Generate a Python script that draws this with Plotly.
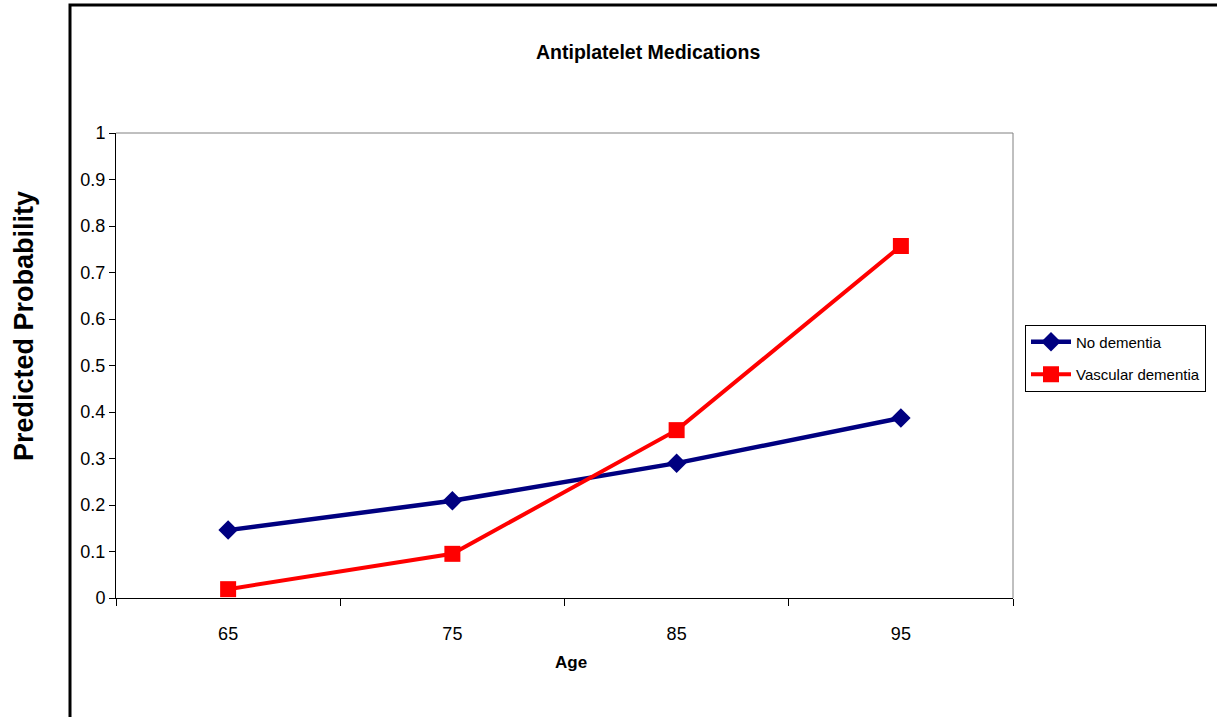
import plotly.graph_objects as go

ages = ["65", "75", "85", "95"]
no_dementia = [0.146, 0.209, 0.290, 0.387]
vascular_dementia = [0.019, 0.095, 0.361, 0.757]
y_ticks = [0, 0.1, 0.2, 0.3, 0.4, 0.5, 0.6, 0.7, 0.8, 0.9, 1]
y_tick_labels = ["0", "0.1", "0.2", "0.3", "0.4", "0.5", "0.6", "0.7", "0.8", "0.9", "1"]

sans = "Liberation Sans, Arial, sans-serif"

fig = go.Figure()
fig.add_trace(go.Scatter(
    x=ages, y=no_dementia, name="No dementia", mode="lines+markers",
    legendgroup="nd",
    line=dict(color="#000080", width=4.5),
    marker=dict(symbol="diamond", size=15, color="#000080"),
))
fig.add_trace(go.Scatter(
    x=ages, y=vascular_dementia, name="Vascular dementia", mode="lines+markers",
    legendgroup="vd",
    line=dict(color="#FF0000", width=4),
    marker=dict(symbol="square", size=16, color="#FF0000"),
))

L, R, T, B = 116, 204, 133, 119
W, H = 1217, 717
pw = W - L - R
ph = H - T - B

fig.update_layout(
    width=W, height=H,
    margin=dict(l=L, r=R, t=T, b=B, autoexpand=False),
    paper_bgcolor="white", plot_bgcolor="white",
    font=dict(family=sans, size=15, color="black"),
    showlegend=True,
    legend=dict(
        x=(1025 - L) / pw, y=(598 - 358) / ph, xanchor="left", yanchor="middle",
        bordercolor="black", borderwidth=1, bgcolor="white",
        font=dict(family=sans, size=15, color="black"),
        itemwidth=40, tracegroupgap=10,
    ),
    xaxis=dict(
        type="category", range=[-0.5, 3.5], tickson="boundaries",
        ticks="outside", ticklen=7, tickcolor="black",
        showline=True, linecolor="black", linewidth=1,
        showgrid=False, zeroline=False,
        tickfont=dict(family=sans, size=18),
        ticklabelstandoff=19,
    ),
    yaxis=dict(
        range=[0, 1], tickvals=y_ticks, ticktext=y_tick_labels,
        ticks="outside", ticklen=6, tickcolor="black",
        showline=True, linecolor="black", linewidth=1,
        showgrid=False, zeroline=False,
        tickfont=dict(family=sans, size=18),
    ),
    shapes=[
        # outer chart frame
        dict(type="rect", xref="paper", yref="paper",
             x0=(70 - L) / pw, x1=(1240 - L) / pw,
             y0=(598 - 740) / ph, y1=(598 - 5) / ph,
             line=dict(color="black", width=3), layer="below"),
        # plot area border (top and right)
        dict(type="line", xref="paper", yref="paper", x0=0, x1=1, y0=1, y1=1,
             line=dict(color="#808080", width=1)),
        dict(type="line", xref="paper", yref="paper", x0=1, x1=1, y0=0, y1=1,
             line=dict(color="#808080", width=1)),
    ],
    annotations=[
        dict(text="<b>Antiplatelet Medications</b>", xref="paper", yref="paper",
             x=(648 - L) / pw, y=(598 - 52) / ph, showarrow=False,
             xanchor="center", yanchor="middle",
             font=dict(family=sans, size=19.5, color="black")),
        dict(text="<b>Age</b>", xref="paper", yref="paper",
             x=(571 - L) / pw, y=(598 - 663) / ph, showarrow=False,
             xanchor="center", yanchor="middle",
             font=dict(family=sans, size=17, color="black")),
        dict(text="<b>Predicted Probability</b>", xref="paper", yref="paper",
             x=(24 - L) / pw, y=(598 - 326) / ph, showarrow=False, textangle=-90,
             xanchor="center", yanchor="middle",
             font=dict(family=sans, size=27, color="black")),
    ],
)

fig.write_html("out.html")
